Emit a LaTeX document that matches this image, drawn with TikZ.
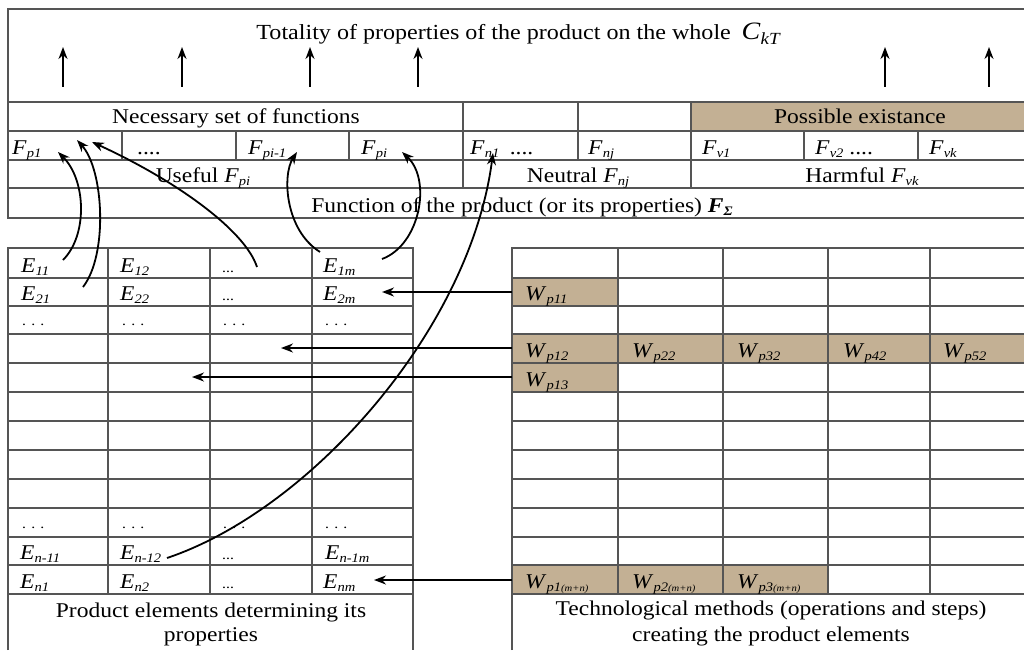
\documentclass[tikz,border=0pt]{standalone}
\usepackage{fontspec}
\setmainfont{Liberation Serif}[FakeStretch=1.12]
\usetikzlibrary{arrows.meta}
\definecolor{cellfill}{RGB}{195,176,148}
\definecolor{rulec}{RGB}{85,85,85}
\newcommand\Sb[1]{\raisebox{-0.4ex}{\fontsize{13}{13}\selectfont\itshape #1}}
\newcommand\V[2]{\textit{#1}\Sb{#2}}
\newcommand\Sm[1]{{\fontsize{9.5}{10}\selectfont #1}}
\tikzset{
  rule/.style={draw=rulec, line width=1.3pt},
  arr/.style={-{Stealth[length=12pt,width=9pt]}, line width=1.8pt, draw=black},
  txt/.style={inner sep=0pt, anchor=base west, font=\fontsize{21}{24}\selectfont},
  ctxt/.style={inner sep=0pt, anchor=base, font=\fontsize{21}{24}\selectfont},
  dots/.style={inner sep=0pt, anchor=base west, font=\fontsize{14}{14}\selectfont},
}
\begin{document}
\begin{tikzpicture}[x=1pt,y=-1pt]
\useasboundingbox[fill=white] (0,0) rectangle (1024,650);

% ---------- fills ----------
\fill[cellfill] (691,102) rectangle (1024,131);
\fill[cellfill] (512,278) rectangle (618,306);
\fill[cellfill] (512,334) rectangle (1024,363);
\fill[cellfill] (512,363) rectangle (618,392);
\fill[cellfill] (512,565) rectangle (828,594);

% ---------- top table ----------
\draw[rule] (1024,9) -- (8,9) -- (8,218) -- (1024,218);
\foreach \y in {102,131,160,188} \draw[rule] (8,\y) -- (1024,\y);
\draw[rule] (463,102) -- (463,188);
\draw[rule] (691,102) -- (691,188);
\draw[rule] (578,102) -- (578,160);
\foreach \x in {122,236,349,804,918} \draw[rule] (\x,131) -- (\x,160);

% ---------- left table ----------
\draw[rule] (8,650) -- (8,248) -- (413,248) -- (413,650);
\foreach \y in {278,306,334,363,392,421,450,479,508,537,565,594} \draw[rule] (8,\y) -- (413,\y);
\foreach \x in {108,210,312} \draw[rule] (\x,248) -- (\x,594);

% ---------- right table ----------
\draw[rule] (512,650) -- (512,248) -- (1024,248);
\foreach \y in {278,306,334,363,392,421,450,479,508,537,565,594} \draw[rule] (512,\y) -- (1024,\y);
\foreach \x in {618,723,828,930} \draw[rule] (\x,248) -- (\x,594);

% ---------- top texts ----------
\node[ctxt, font=\fontsize{21.5}{24}\selectfont] (title) at (518,40) {Totality of properties of the product on the whole\enspace{\fontsize{25}{25}\selectfont\textit{C}}\raisebox{-0.5ex}{\fontsize{17}{17}\selectfont\itshape kT}};
\node[ctxt] (necessary) at (236,124) {Necessary set of functions};
\node[ctxt] (possible) at (860,124) {Possible existance};
\node[txt] (fp1) at (12,154) {\V{F}{p1}};
\node[txt] (fdots1) at (137,154) {....};
\node[txt] (fpim) at (248,154) {\V{F}{pi-1}};
\node[txt] (fpi) at (361,154) {\V{F}{pi}};
\node[txt] (fn1) at (470,154) {\V{F}{n1}\enspace ....};
\node[txt] (fnj) at (588,154) {\V{F}{nj}};
\node[txt] (fv1) at (702,154) {\V{F}{v1}};
\node[txt] (fv2) at (815,154) {\V{F}{v2} ....};
\node[txt] (fvk) at (929,154) {\V{F}{vk}};
\node[ctxt] (useful) at (203,182) {Useful \V{F}{pi}};
\node[ctxt] (neutral) at (578,182) {Neutral \V{F}{nj}};
\node[ctxt] (harmful) at (862,182) {Harmful \V{F}{vk}};
\node[ctxt] (function) at (522,212) {Function of the product (or its properties) \textbf{\textit{F}}\raisebox{-0.4ex}{\fontsize{13}{13}\selectfont\bfseries\itshape Σ}};

% ---------- up arrows ----------
\foreach \i/\x in {1/63,2/182,3/310,4/418,5/885,6/989}{
  \coordinate (ub\i) at (\x,87);
  \coordinate (ut\i) at (\x,47);
  \draw[arr] (ub\i) -- (ut\i);
}

% ---------- left table texts ----------
\node[txt] (e11) at (21,272) {\V{E}{11}};
\node[txt] (e12) at (120,272) {\V{E}{12}};
\node[dots] (e13) at (222,272) {...};
\node[txt] (e1m) at (323,272) {\V{E}{1m}};
\node[txt] (e21) at (21,300) {\V{E}{21}};
\node[txt] (e22) at (120,300) {\V{E}{22}};
\node[dots] (e23) at (222,300) {...};
\node[txt] (e2m) at (323,300) {\V{E}{2m}};
\node[dots] (r3a) at (22,325) {. . .};
\node[dots] (r3b) at (122,325) {. . .};
\node[dots] (r3c) at (223,325) {. . .};
\node[dots] (r3d) at (325,325) {. . .};
\node[dots] (r10a) at (22,528) {. . .};
\node[dots] (r10b) at (122,528) {. . .};
\node[dots] (r10c) at (223,528) {. . .};
\node[dots] (r10d) at (325,528) {. . .};
\node[txt] (en11) at (20,559) {\V{E}{n-11}};
\node[txt] (en12) at (120,559) {\V{E}{n-12}};
\node[dots] (en13) at (222,559) {...};
\node[txt] (en1m) at (325,559) {\V{E}{n-1m}};
\node[txt] (en1) at (20,588) {\V{E}{n1}};
\node[txt] (en2) at (120,588) {\V{E}{n2}};
\node[dots] (en3) at (222,588) {...};
\node[txt] (enm) at (323,588) {\V{E}{nm}};
\node[ctxt] (prod1) at (211,617) {Product elements determining its};
\node[ctxt] (prod2) at (211,641) {properties};

% ---------- right table texts ----------
\node[txt] (w11) at (525,300) {\V{W}{p11}};
\node[txt] (w12) at (525,357) {\V{W}{p12}};
\node[txt] (w22) at (632,357) {\V{W}{p22}};
\node[txt] (w32) at (737,357) {\V{W}{p32}};
\node[txt] (w42) at (843,357) {\V{W}{p42}};
\node[txt] (w52) at (943,357) {\V{W}{p52}};
\node[txt] (w13) at (525,386) {\V{W}{p13}};
\node[txt] (w1mn) at (525,588) {\textit{W}\Sb{p1\Sm{(m+n)}}};
\node[txt] (w2mn) at (632,588) {\textit{W}\Sb{p2\Sm{(m+n)}}};
\node[txt] (w3mn) at (737,588) {\textit{W}\Sb{p3\Sm{(m+n)}}};
\node[ctxt] (tech1) at (771,615) {Technological methods (operations and steps)};
\node[ctxt] (tech2) at (771,641) {creating the product elements};

% ---------- horizontal arrows ----------
\coordinate (h1s) at (512,292); \coordinate (h1e) at (382,292);
\coordinate (h2s) at (512,348); \coordinate (h2e) at (281,348);
\coordinate (h3s) at (512,377); \coordinate (h3e) at (192,377);
\coordinate (h4s) at (512,580); \coordinate (h4e) at (374,580);
\draw[arr] (h1s) -- (h1e);
\draw[arr] (h2s) -- (h2e);
\draw[arr] (h3s) -- (h3e);
\draw[arr] (h4s) -- (h4e);

% ---------- curved arrows ----------
\coordinate (c1s) at (63,260);  \coordinate (c1e) at (58,152);
\coordinate (c2s) at (83,287);  \coordinate (c2e) at (77,140);
\coordinate (c3s) at (257,267); \coordinate (c3e) at (92,142);
\coordinate (c4s) at (320,252); \coordinate (c4e) at (297,152);
\coordinate (c5s) at (382,259); \coordinate (c5e) at (402,152);
\coordinate (c6s) at (167,558); \coordinate (c6e) at (493,153);
\draw[arr] (c1s) .. controls (88,235) and (86,180) .. (c1e);
\draw[arr] (c2s) .. controls (108,255) and (104,170) .. (c2e);
\draw[arr] (c3s) .. controls (245,230) and (175,180) .. (c3e);
\draw[arr] (c4s) .. controls (285,230) and (282,175) .. (c4e);
\draw[arr] (c5s) .. controls (420,245) and (432,180) .. (c5e);
\draw[arr] (c6s) .. controls (310,510) and (470,330) .. (c6e);
\end{tikzpicture}
\end{document}
